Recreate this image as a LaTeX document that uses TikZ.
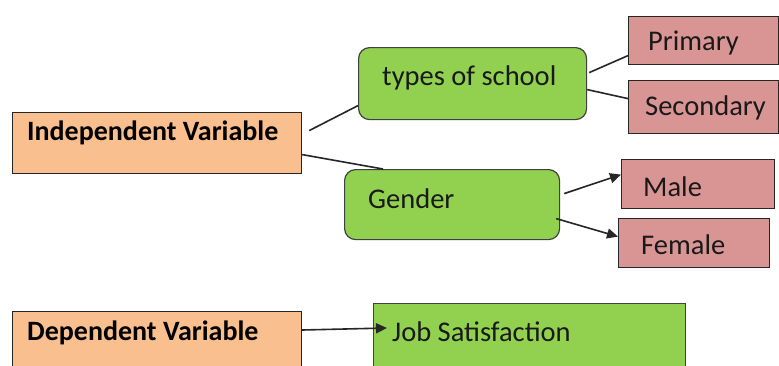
\documentclass[tikz,border=0pt]{standalone}
\usepackage{fontspec}
\setmainfont{Carlito}
\usetikzlibrary{calc,arrows.meta}

\definecolor{peach}{HTML}{FABF8F}
\definecolor{leaf}{HTML}{92D050}
\definecolor{rose}{HTML}{D99594}

\tikzset{
	varbox/.style={draw=black!85, fill=peach, line width=1.2pt, anchor=north west, inner sep=0pt},
	groupbox/.style={draw=black!75, fill=leaf, line width=1.2pt, rounded corners=11pt, anchor=north west, inner sep=0pt},
	levelbox/.style={draw=black!85, fill=rose, line width=1.2pt, anchor=north west, inner sep=0pt},
	boxtext/.style={anchor=west, inner sep=0pt, text=black!90, font=\fontsize{28.5}{33}\selectfont},
	headtext/.style={boxtext, text=black, font=\fontsize{28}{33}\selectfont\bfseries},
	link/.style={line width=1.6pt, black!85},
	arrowlink/.style={link, -{Triangle[length=11pt,width=10pt]}},
}

\begin{document}
	\begin{tikzpicture}[x=1pt, y=-1pt]
		%%%%% START %%%%%
		\clip (0,0) rectangle (779,365);
		\fill[white] (0,0) rectangle (779,365);
		
		% variables
		\node[varbox, minimum width=289pt, minimum height=61pt] (iv) at (12,112) {};
		\node[headtext] (ivtext) at (27,133) {Independent Variable};
		
		\node[varbox, minimum width=289pt, minimum height=70pt] (dv) at (12,311) {};
		\node[headtext] (dvtext) at (27,333) {Dependent Variable};
		
		% groups
		\node[groupbox, minimum width=228pt, minimum height=72pt] (ts) at (358,47) {};
		\node[boxtext] (tstext) at (382,78) {types of school};
		
		\node[groupbox, minimum width=215pt, minimum height=70pt] (gd) at (344,169) {};
		\node[boxtext] (gdtext) at (368,199) {Gender};
		
		\node[groupbox, rounded corners=0pt, minimum width=312pt, minimum height=78pt] (job) at (373,303) {};
		\node[boxtext] (jobtext) at (392,332) {Job Satisfaction};
		
		% levels
		\node[levelbox, minimum width=150pt, minimum height=48pt] (pri) at (628,16) {};
		\node[boxtext] (pritext) at (648,43) {Primary};
		
		\node[levelbox, minimum width=150pt, minimum height=53pt] (sec) at (628,80) {};
		\node[boxtext] (sectext) at (645,108) {Secondary};
		
		\node[levelbox, minimum width=153pt, minimum height=49pt] (male) at (621,159) {};
		\node[boxtext] (maletext) at (643,187) {Male};
		
		\node[levelbox, minimum width=151pt, minimum height=49pt] (fem) at (618,218) {};
		\node[boxtext] (femtext) at (641,245) {Female};
		
		% connectors
		\draw[link] ($(iv.east)+(7,-12.5)$) -- ($(ts.west)+(0,22)$);
		\draw[link] ($(iv.east)+(0,11.5)$) -- ($(gd.north west)+(39,0)$);
		\draw[link] ($(ts.east)+(2,-11)$) -- ($(pri.west)+(0,15)$);
		\draw[link] ($(ts.east)+(0,6)$) -- ($(sec.west)+(0,-8.5)$);
		\draw[arrowlink] ($(gd.east)+(4,-11)$) -- ($(male.west)+(0,-9.5)$);
		\draw[arrowlink] ($(gd.east)+(-4,14)$) -- ($(fem.west)+(0,-6.5)$);
		\draw[arrowlink] ($(dv.north east)+(0,19)$) -- ($(job.north west)+(14,25)$);
		%%%%% END %%%%%
	\end{tikzpicture}
\end{document}
